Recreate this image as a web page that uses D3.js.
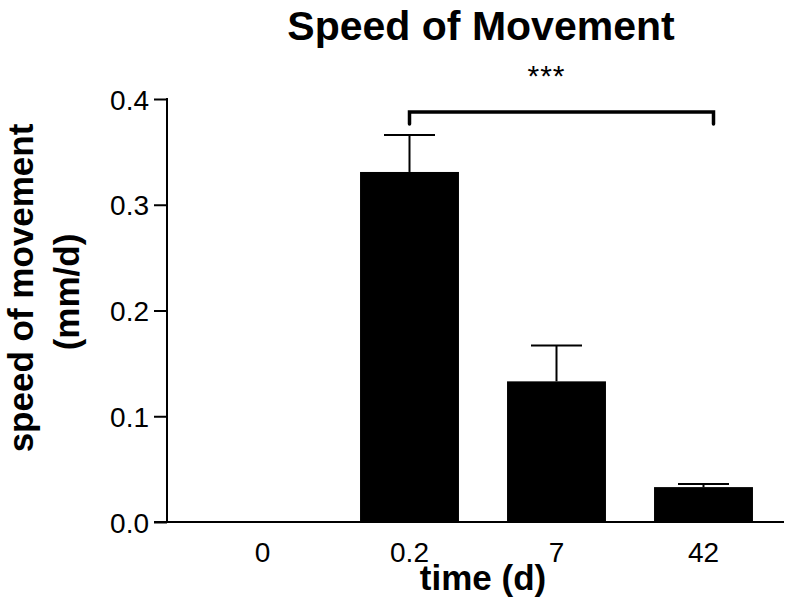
<!DOCTYPE html>
<html>
<head>
<meta charset="utf-8">
<script src="https://cdn.jsdelivr.net/npm/d3@7"></script>
<style>
  html, body { margin: 0; padding: 0; background: #fff; }
  svg { display: block; font-family: "Liberation Sans", Arial, sans-serif; }
</style>
</head>
<body>
<svg id="chart" width="790" height="614"></svg>
<script>
const categories = ["0", "0.2", "7", "42"];
const means = [0, 0.331, 0.133, 0.033];
const sems = [0, 0.035, 0.034, 0.003];
const yTicks = [0.0, 0.1, 0.2, 0.3, 0.4];
const significance = { from: "0.2", to: "42", label: "***" };

const svg = d3.select("#chart");
const axisLeft = 167, axisBottom = 522, axisTop = 99, axisRight = 784;

const x = d3.scaleBand().domain(categories).range([189, 777])
  .paddingInner(0.327).paddingOuter(0.1635);
const y = d3.scaleLinear().domain([0, 0.4]).range([axisBottom, axisTop]);

// Title
svg.append("text").attr("x", 481).attr("y", 40).attr("text-anchor", "middle")
  .attr("font-size", 41).attr("font-weight", "bold").text("Speed of Movement");

// Bars
const data = categories.map((c, i) => ({ c, m: means[i], e: sems[i] }));
svg.append("g").selectAll("rect").data(data.filter(d => d.m > 0)).join("rect")
  .attr("x", d => x(d.c)).attr("width", x.bandwidth())
  .attr("y", d => y(d.m)).attr("height", d => y(0) - y(d.m))
  .attr("fill", "#000");

// Error bars
const capHalf = 25.5;
const eg = svg.append("g").attr("stroke", "#000").attr("stroke-width", 2);
data.filter(d => d.e > 0).forEach(d => {
  const cx = x(d.c) + x.bandwidth() / 2;
  eg.append("line").attr("x1", cx).attr("x2", cx).attr("y1", y(d.m)).attr("y2", y(d.m + d.e));
  eg.append("line").attr("x1", cx - capHalf).attr("x2", cx + capHalf)
    .attr("y1", y(d.m + d.e)).attr("y2", y(d.m + d.e));
});

// Y axis
const yAxis = d3.axisLeft(y).tickValues(yTicks).tickFormat(d3.format(".1f"))
  .tickSize(13).tickPadding(5);
const gy = svg.append("g").attr("transform", `translate(${axisLeft},0)`).call(yAxis);
gy.select(".domain").remove();
gy.selectAll(".tick line").attr("stroke", "#000").attr("stroke-width", 2);
gy.selectAll(".tick text").attr("font-size", 28).attr("fill", "#000")
  .attr("font-family", "'Liberation Sans', Arial, sans-serif").attr("dy", "0.36em");
svg.append("line").attr("x1", axisLeft).attr("x2", axisLeft)
  .attr("y1", axisTop - 1).attr("y2", axisBottom + 1)
  .attr("stroke", "#000").attr("stroke-width", 2);

// X axis
svg.append("line").attr("x1", axisLeft - 13).attr("x2", axisRight)
  .attr("y1", axisBottom).attr("y2", axisBottom)
  .attr("stroke", "#000").attr("stroke-width", 2);
const xAxis = d3.axisBottom(x).tickSize(0).tickPadding(0);
const gx = svg.append("g").attr("transform", `translate(0,${axisBottom})`).call(xAxis);
gx.select(".domain").remove();
gx.selectAll(".tick text").attr("font-size", 28).attr("fill", "#000")
  .attr("font-family", "'Liberation Sans', Arial, sans-serif")
  .attr("y", 40).attr("dy", 0);

// Axis titles
svg.append("text").attr("x", 483).attr("y", 590).attr("text-anchor", "middle")
  .attr("font-size", 35).attr("font-weight", "bold").text("time (d)");
const yt = svg.append("g").attr("font-size", 35).attr("font-weight", "bold")
  .attr("text-anchor", "middle");
yt.append("text").attr("transform", "translate(33,288) rotate(-90)").text("speed of movement");
yt.append("text").attr("transform", "translate(79,292) rotate(-90)").text("(mm/d)");

// Significance bracket
const bx1 = x(significance.from) + x.bandwidth() / 2;
const bx2 = x(significance.to) + x.bandwidth() / 2 + 10;
const bTop = 112, bBot = 124;
svg.append("path")
  .attr("d", `M${bx1},${bBot} L${bx1},${bTop} L${bx2},${bTop} L${bx2},${bBot}`)
  .attr("fill", "none").attr("stroke", "#000").attr("stroke-width", 3.5)
  .attr("stroke-linecap", "round").attr("stroke-linejoin", "miter");
svg.append("text").attr("x", x("7") + x.bandwidth() / 2 - 10).attr("y", 86)
  .attr("text-anchor", "middle").attr("font-size", 30).attr("letter-spacing", 1)
  .text(significance.label);
</script>
</body>
</html>
